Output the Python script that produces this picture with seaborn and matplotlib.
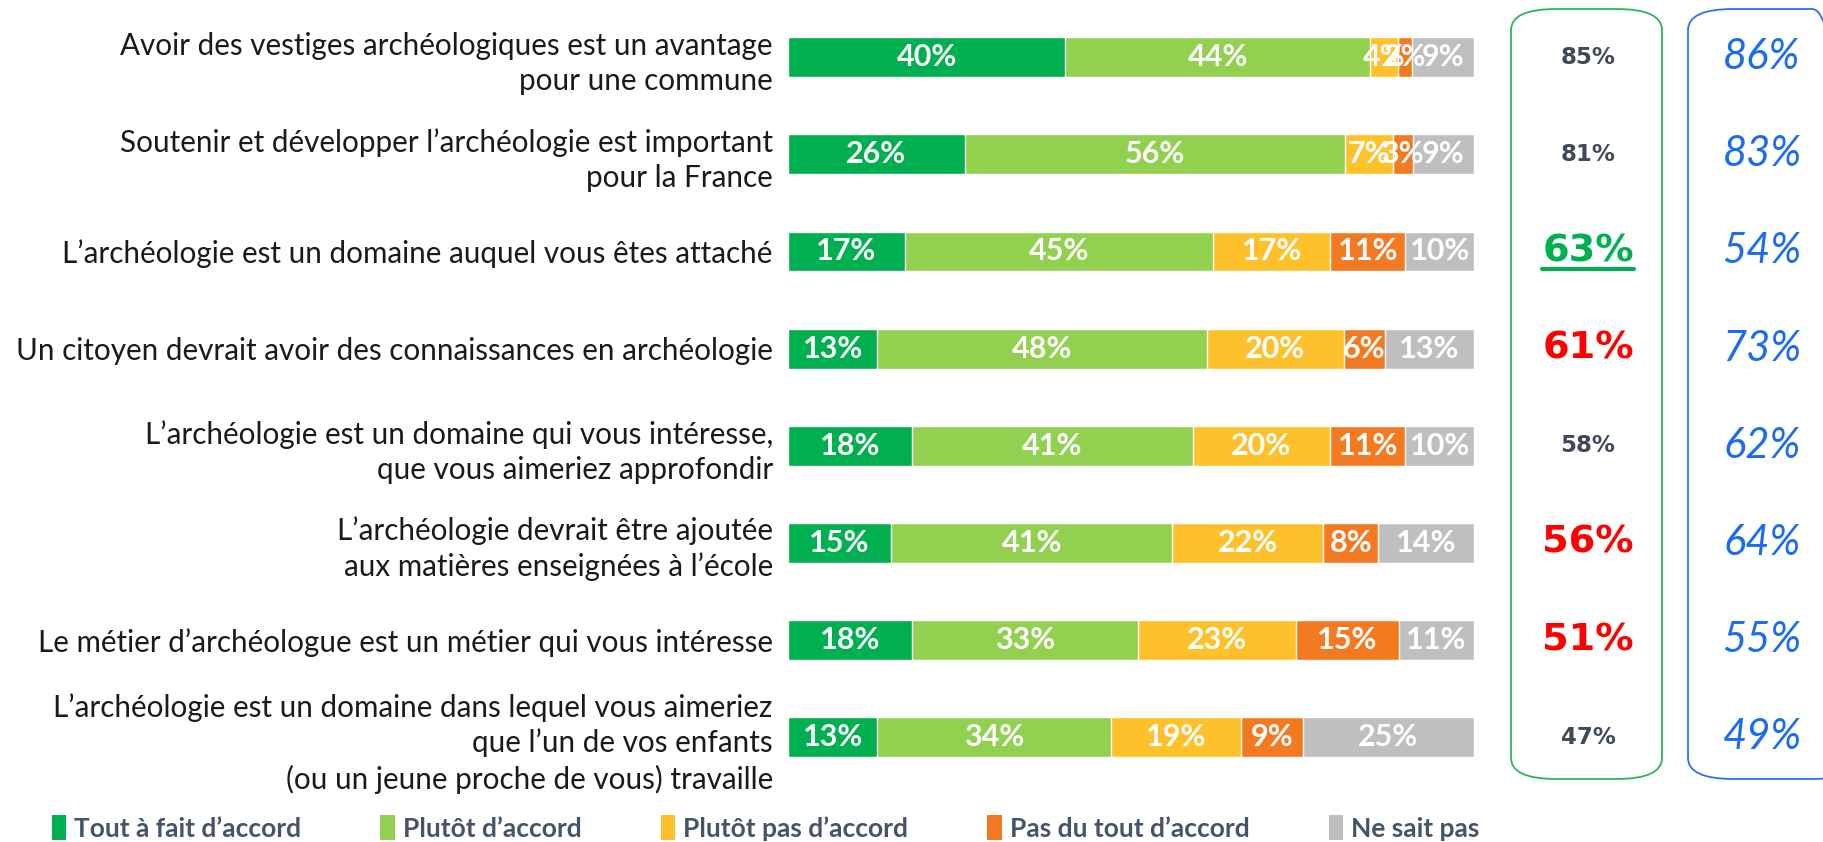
import numpy as np
import pandas as pd
import matplotlib
matplotlib.use("Agg")
import matplotlib.pyplot as plt
import seaborn as sns
from matplotlib.patches import FancyBboxPatch, Patch
from matplotlib.lines import Line2D
from matplotlib.transforms import blended_transform_factory

# statements (y axis)
statements = [
    "Avoir des vestiges archéologiques est un avantage\npour une commune",
    "Soutenir et développer l\u2019archéologie est important\npour la France",
    "L\u2019archéologie est un domaine auquel vous êtes attaché",
    "Un citoyen devrait avoir des connaissances en archéologie",
    "L\u2019archéologie est un domaine qui vous intéresse,\nque vous aimeriez approfondir",
    "L\u2019archéologie devrait être ajoutée\naux matières enseignées à l\u2019école",
    "Le métier d\u2019archéologue est un métier qui vous intéresse",
    "L\u2019archéologie est un domaine dans lequel vous aimeriez\nque l\u2019un de vos enfants\n(ou un jeune proche de vous) travaille",
]

# answer shares (%)
tout_a_fait = [40, 26, 17, 13, 18, 15, 18, 13]
plutot = [44, 56, 45, 48, 41, 41, 33, 34]
plutot_pas = [4, 7, 17, 20, 20, 22, 23, 19]
pas_du_tout = [2, 3, 11, 6, 11, 8, 15, 9]
ne_sait_pas = [9, 9, 10, 13, 10, 14, 11, 25]

# right-hand columns
total_accord = [85, 81, 63, 61, 58, 56, 51, 47]
total_previous = [86, 83, 54, 73, 62, 64, 55, 49]
highlight = ["none", "none", "up", "down", "none", "down", "down", "none"]

answers = ["Tout à fait d\u2019accord", "Plutôt d\u2019accord", "Plutôt pas d\u2019accord",
           "Pas du tout d\u2019accord", "Ne sait pas"]
colors = ["#00B050", "#92D050", "#FFC12B", "#F47A22", "#BFBFBF"]

df = pd.DataFrame({"statement": statements,
                   answers[0]: tout_a_fait, answers[1]: plutot,
                   answers[2]: plutot_pas, answers[3]: pas_du_tout,
                   answers[4]: ne_sait_pas})
shares = df[answers]
shares = shares.div(shares.sum(axis=1), axis=0) * 100  # bars fill the full width
cum = shares.cumsum(axis=1)

sns.set_style("white")
plt.rcParams["font.family"] = ["Lato", "DejaVu Sans"]

fig = plt.figure(figsize=(18.23, 8.42), dpi=100)
ax = fig.add_axes([0.4323, 0.0668, 0.3763, 0.923])

# stacked bars: draw cumulative totals from the last answer to the first
for ans, col in reversed(list(zip(answers, colors))):
    sns.barplot(x=cum[ans], y=df["statement"], color=col, orient="h",
                width=0.41, saturation=1, ax=ax)

# values in segments
for i in range(len(df)):
    for ans in answers:
        mid = cum.loc[i, ans] - shares.loc[i, ans] / 2
        ax.text(mid, i, f"{df.loc[i, ans]}%", ha="center", va="center",
                color="white", fontsize=22, fontweight="bold")

ax.set_xlim(0, 100)
ax.set_ylim(7.5, -0.5)
ax.set_xlabel("")
ax.set_ylabel("")
ax.set_xticks([])
ax.tick_params(axis="y", length=0, pad=11)
ax.set_yticks(range(len(df)))
ax.set_yticklabels(statements, fontsize=21.3, color="#1a1a1a", linespacing=1.3)
sns.despine(ax=ax, left=True, bottom=True)

# rounded boxes on the right
fig.patches.append(FancyBboxPatch((1511 / 1823, 1 - 779 / 842), 151 / 1823, 770 / 842,
                                  boxstyle="round,pad=0,rounding_size=0.025",
                                  transform=fig.transFigure, fill=False,
                                  edgecolor="#2DB55D", linewidth=1.3))
fig.patches.append(FancyBboxPatch((1688 / 1823, 1 - 779 / 842), 170 / 1823, 770 / 842,
                                  boxstyle="round,pad=0,rounding_size=0.025",
                                  transform=fig.transFigure, fill=False,
                                  edgecolor="#2F6FF0", linewidth=1.3))

tr = blended_transform_factory(fig.transFigure, ax.transData)
underline = []
for i, (v, p, h) in enumerate(zip(total_accord, total_previous, highlight)):
    if h == "none":
        ax.text(1588 / 1823, i, f"{v}%", transform=tr, ha="center", va="center",
                fontsize=16.5, fontweight="bold", color="#3E4A5C",
                family="DejaVu Sans", clip_on=False)
    else:
        col = "#00B050" if h == "up" else "#FF0000"
        t = ax.text(1588 / 1823, i, f"{v}%", transform=tr, ha="center", va="center",
                    fontsize=27.5, fontweight="bold", color=col,
                    family="DejaVu Sans", clip_on=False)
        if h == "up":
            underline.append((t, col))
    ax.text(1762 / 1823, i, f"{p}%", transform=tr, ha="center", va="center",
            fontsize=30, fontstyle="italic", color="#1C6CF2", clip_on=False)

fig.canvas.draw()
for t, col in underline:
    bb = t.get_window_extent().transformed(fig.transFigure.inverted())
    fig.lines.append(Line2D([bb.x0, bb.x1], [bb.y0 + 0.001, bb.y0 + 0.001],
                            transform=fig.transFigure, color=col, linewidth=3))

handles = [Patch(facecolor=c, edgecolor="none") for c in colors]
leg = fig.legend(handles, answers, loc="center", bbox_to_anchor=(0.42, 0.017), ncol=5,
                 frameon=False, handlelength=0.55, handleheight=1.1,
                 handletextpad=0.3, columnspacing=3.0, borderpad=0,
                 prop={"weight": "bold", "size": 19})
for txt in leg.get_texts():
    txt.set_color("#44546A")

fig.savefig("out.png", dpi=100)
